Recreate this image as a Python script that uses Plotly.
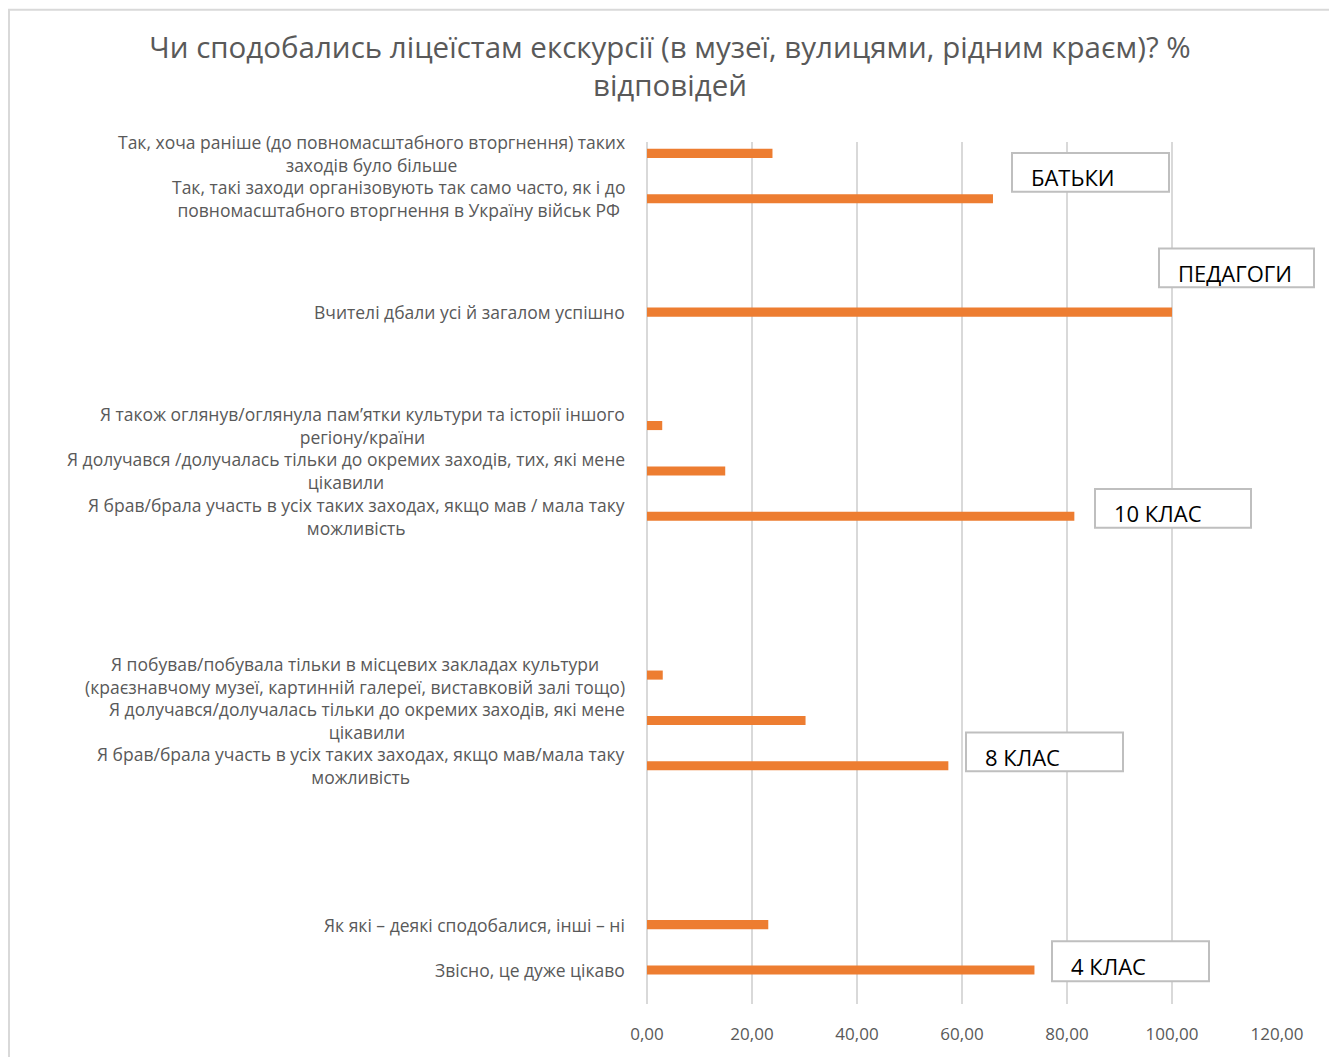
import plotly.graph_objects as go

TITLE = "Чи сподобались ліцеїстам екскурсії (в музеї, вулицями, рідним краєм)? %<br>відповідей"

# category labels (top to bottom), grouped by respondent type
labels_parents = [
    "Так, хоча раніше (до повномасштабного вторгнення) таких<br>заходів було більше",
    "Так, такі заходи організовують так само часто, як і до<br>повномасштабного вторгнення в Україну військ РФ",
]
values_parents = [23.9, 65.9]

labels_teachers = ["Вчителі дбали усі й загалом успішно"]
values_teachers = [100.0]

labels_10 = [
    "Я також оглянув/оглянула пам’ятки культури та історії іншого<br>регіону/країни",
    "Я долучався /долучалась тільки до окремих заходів, тих, які мене<br>цікавили",
    "Я брав/брала участь в усіх таких заходах, якщо мав / мала таку<br>можливість",
]
values_10 = [2.9, 14.9, 81.4]

labels_8 = [
    "Я побував/побувала тільки в місцевих закладах культури<br>(краєзнавчому музеї, картинній галереї, виставковій залі тощо)",
    "Я долучався/долучалась тільки до окремих заходів, які мене<br>цікавили",
    "Я брав/брала участь в усіх таких заходах, якщо мав/мала таку<br>можливість",
]
values_8 = [3.0, 30.2, 57.4]

labels_4 = ["Як які – деякі сподобалися, інші – ні", "Звісно, це дуже цікаво"]
values_4 = [23.1, 73.8]

group_names = ["БАТЬКИ", "ПЕДАГОГИ", "10 КЛАС", "8 КЛАС", "4 КЛАС"]

x_ticks = [0, 20, 40, 60, 80, 100, 120]

# category order with empty spacer rows ("" = empty slot on the category axis)
rows = (
    [labels_parents[0], "", labels_parents[1], "", "", "", "", labels_teachers[0],
     "", "", "", "", labels_10[0], "", labels_10[1], "", labels_10[2],
     "", "", "", "", "", "", labels_8[0], "", labels_8[1], "", labels_8[2],
     "", "", "", "", "", "", labels_4[0], "", labels_4[1], ""]
)
cat_ids = [r if r else f"__gap{i}" for i, r in enumerate(rows)]

all_labels = labels_parents + labels_teachers + labels_10 + labels_8 + labels_4
all_values = values_parents + values_teachers + values_10 + values_8 + values_4

FONT = "'Open Sans', Roboto, sans-serif"
GRAY = "#595959"
ORANGE = "#ED7D31"

fig = go.Figure()
fig.add_trace(go.Bar(
    x=all_values, y=all_labels, orientation="h",
    marker=dict(color=ORANGE, line=dict(width=0)),
    width=0.4, hoverinfo="x+y",
))

# page offset (body margin) and plot-area geometry in pixels
OFF = 8
W, H = 1337 - OFF, 1057 - OFF
L = 647 - OFF
T = 142 - OFF
R = W - (1277 - OFF)
B = H - (1009 - OFF)
PW, PH = W - L - R, H - T - B

def px(xp):
    return (xp - OFF - L) / PW

def py(yp):
    return (H - B - (yp - OFF)) / PH

shapes = []
annotations = []

# outer frame of chart area
shapes.append(dict(type="rect", xref="paper", yref="paper",
                   x0=px(9), x1=px(1332), y0=py(1070), y1=py(9),
                   line=dict(color="#d9d9d9", width=2), fillcolor="rgba(0,0,0,0)",
                   layer="below"))

# category labels
for lab in all_labels:
    annotations.append(dict(
        x=0, xref="paper", y=lab, yref="y", text=lab, showarrow=False,
        xanchor="right", yanchor="middle", align="center", xshift=-20,
        font=dict(family=FONT, size=17.5, color=GRAY),
    ))

# group boxes: (left, top, right, bottom) in px
boxes = [
    (1012, 153, 1169, 192),
    (1159, 249, 1314, 288),
    (1095, 491, 1251, 530),
    (966, 736, 1123, 775),
    (1052, 946, 1209, 986),
]
for name, (x0, y0, x1, y1) in zip(group_names, boxes):
    shapes.append(dict(type="rect", xref="paper", yref="paper",
                       x0=px(x0), x1=px(x1), y0=py(y1), y1=py(y0),
                       line=dict(color="#bfbfbf", width=2), fillcolor="white",
                       layer="above"))
    annotations.append(dict(
        x=px(x0 + 17), xref="paper", y=py((y0 + y1) / 2 + 5), yref="paper",
        text=name, showarrow=False, xanchor="left", yanchor="middle",
        font=dict(family=FONT, size=22, color="#000000"),
    ))

fig.update_layout(
    width=W, height=H,
    margin=dict(l=L, r=R, t=T, b=B, pad=0),
    paper_bgcolor="white", plot_bgcolor="white",
    separators=", ",
    showlegend=False,
    title=dict(text=TITLE, x=(670 - OFF) / W, xref="container", xanchor="center",
               y=1 - 50 / H, yref="container", yanchor="middle",
               font=dict(family=FONT, size=29.5, color=GRAY)),
    xaxis=dict(range=[0, 120], tickvals=x_ticks, tickformat=".2f",
               showgrid=True, gridcolor="#d9d9d9", gridwidth=1.5,
               zeroline=True, zerolinecolor="#d9d9d9", zerolinewidth=1.5,
               showline=False, ticks="outside", ticklen=15, tickcolor="rgba(0,0,0,0)",
               tickfont=dict(family=FONT, size=17, color=GRAY), fixedrange=True),
    yaxis=dict(type="category", categoryorder="array", categoryarray=cat_ids,
               range=[len(cat_ids) - 0.5, -0.5], showticklabels=False,
               showgrid=False, zeroline=False, showline=False, fixedrange=True),
    shapes=shapes,
    annotations=annotations,
)

fig.write_html("out.html")
